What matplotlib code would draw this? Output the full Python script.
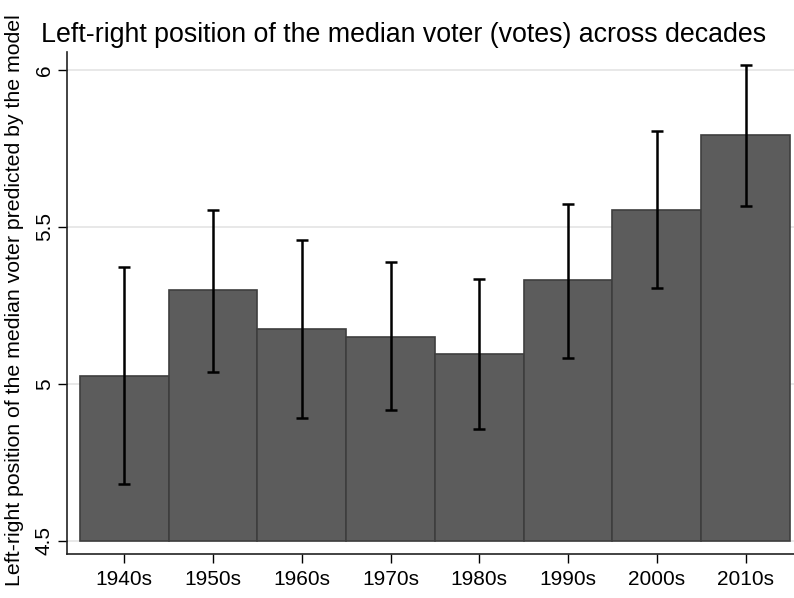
import numpy as np
import matplotlib.pyplot as plt

plt.rcParams['font.family'] = ['Liberation Sans', 'DejaVu Sans']

# datos
decadas = ['1940s', '1950s', '1960s', '1970s', '1980s', '1990s', '2000s', '2010s']
mediana = [5.026, 5.299, 5.174, 5.151, 5.096, 5.330, 5.553, 5.792]
ic_sup = [5.371, 5.554, 5.459, 5.387, 5.334, 5.572, 5.804, 6.016]
ic_inf = [4.680, 5.039, 4.891, 4.918, 4.857, 5.082, 5.304, 5.566]
yticks = [4.5, 5, 5.5, 6]
ytick_labels = ['4.5', '5', '5.5', '6']

fig = plt.figure(figsize=(7.94, 5.98), dpi=100)
ax = fig.add_axes([67/794, 44/598, 727/794, 502/598])

x = np.arange(len(decadas))
base = 4.5
alturas = np.array(mediana) - base
ax.bar(x, alturas, width=1.0, bottom=base, color='#5c5c5c',
       edgecolor='#3e3e3e', linewidth=1.2, zorder=2)

# barras de error
err_bajo = np.array(mediana) - np.array(ic_inf)
err_alto = np.array(ic_sup) - np.array(mediana)
ax.errorbar(x, mediana, yerr=[err_bajo, err_alto], fmt='none',
            ecolor='black', elinewidth=1.8, capsize=4.5, capthick=1.8, zorder=3)

ax.set_xlim(-0.646, 7.545)
ax.set_ylim(4.4586, 6.057)
ax.set_yticks(yticks)
ax.set_yticklabels(ytick_labels, rotation=90, va='center')
ax.set_xticks(x)
ax.set_xticklabels(decadas)
ax.tick_params(axis='both', labelsize=15, length=6.5, width=1, colors='black')
ax.tick_params(axis='y', pad=3)
ax.tick_params(axis='x', pad=5)
ax.yaxis.grid(True, color='#e4e4e4', linewidth=1.2, zorder=0)
ax.set_axisbelow(True)
for lado in ['top', 'right']:
    ax.spines[lado].set_visible(False)
for lado in ['left', 'bottom']:
    ax.spines[lado].set_linewidth(1.2)
    ax.spines[lado].set_color('#222222')

fig.text(40.7/794, 1 - 41.7/598,
         'Left-right position of the median voter (votes) across decades',
         fontsize=19.3, va='baseline', ha='left')
fig.text(15/794, 1 - 300/598,
         'Left-right position of the median voter predicted by the model',
         fontsize=15.3, rotation=90, va='center', ha='center')

fig.savefig('out.png', dpi=100)
